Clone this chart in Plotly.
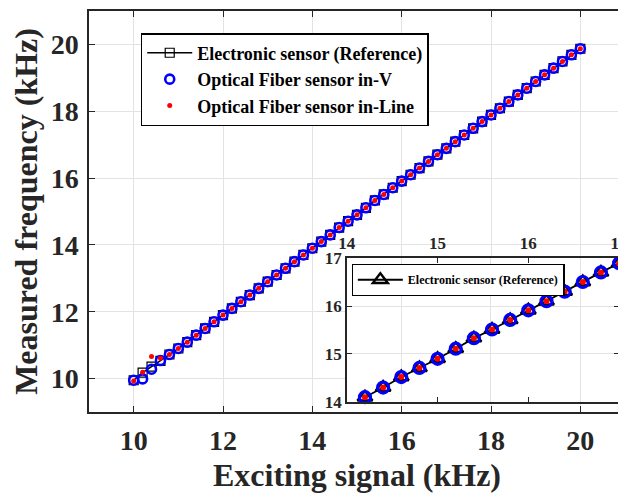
import plotly.graph_objects as go

# ---- data (kHz) ----
exciting = [10.0, 10.2, 10.4, 10.6, 10.8, 11.0, 11.2, 11.4, 11.6, 11.8,
            12.0, 12.2, 12.4, 12.6, 12.8, 13.0, 13.2, 13.4, 13.6, 13.8,
            14.0, 14.2, 14.4, 14.6, 14.8, 15.0, 15.2, 15.4, 15.6, 15.8,
            16.0, 16.2, 16.4, 16.6, 16.8, 17.0, 17.2, 17.4, 17.6, 17.8,
            18.0, 18.2, 18.4, 18.6, 18.8, 19.0, 19.2, 19.4, 19.6, 19.8, 20.0]
electronic_ref = [9.95, 10.18, 10.36, 10.53, 10.72, 10.90, 11.09, 11.30, 11.50, 11.70,
                  11.90, 12.10, 12.30, 12.50, 12.70, 12.90, 13.10, 13.30, 13.50, 13.70,
                  13.90, 14.10, 14.30, 14.52, 14.71, 14.90, 15.11, 15.33, 15.51, 15.71,
                  15.91, 16.10, 16.30, 16.50, 16.70, 16.89, 17.09, 17.29, 17.49, 17.69,
                  17.89, 18.09, 18.29, 18.49, 18.69, 18.89, 19.09, 19.29, 19.49, 19.69, 19.87]
optical_inV = [9.95, 9.99, 10.28, 10.54, 10.72, 10.90, 11.09, 11.30, 11.50, 11.70,
               11.90, 12.10, 12.30, 12.50, 12.70, 12.90, 13.10, 13.30, 13.50, 13.70,
               13.90, 14.10, 14.30, 14.52, 14.71, 14.90, 15.11, 15.33, 15.51, 15.71,
               15.91, 16.10, 16.30, 16.50, 16.70, 16.89, 17.09, 17.29, 17.49, 17.69,
               17.89, 18.09, 18.29, 18.49, 18.69, 18.89, 19.09, 19.29, 19.49, 19.69, 19.87]
optical_inLine = [9.93, 10.19, 10.66, 10.61, 10.72, 10.90, 11.09, 11.30, 11.50, 11.70,
                  11.90, 12.10, 12.30, 12.50, 12.70, 12.90, 13.10, 13.30, 13.50, 13.70,
                  13.90, 14.10, 14.30, 14.52, 14.71, 14.90, 15.11, 15.33, 15.51, 15.71,
                  15.91, 16.10, 16.30, 16.50, 16.70, 16.89, 17.09, 17.29, 17.49, 17.69,
                  17.89, 18.09, 18.29, 18.49, 18.69, 18.89, 19.09, 19.29, 19.49, 19.69, 19.87]

main_ticks = [10, 12, 14, 16, 18, 20]
inset_ticks = [14, 15, 16, 17]
inset_start, inset_end = 21, 36   # zoomed points: 14.2 ... 17.0 kHz

FONT = "Liberation Serif"
DARK = "#262626"
GRID = "#e3e3e3"
BLUE = "#0000ff"
RED = "#ff0000"

main_range = [9, 21]
inset_xdom = [0.481, 0.989]
inset_ydom = [0.025, 0.384]

fig = go.Figure()

# main axes
fig.add_trace(go.Scatter(
    x=exciting, y=electronic_ref, mode="lines+markers",
    name="Electronic sensor (Reference)",
    line=dict(color="black", width=1.5),
    marker=dict(symbol="square-open", size=9, color="black", line=dict(width=1.2))))
fig.add_trace(go.Scatter(
    x=exciting, y=optical_inV, mode="markers",
    name="Optical Fiber sensor in-V",
    marker=dict(symbol="circle-open", size=9, color=BLUE, line=dict(width=2.6))))
fig.add_trace(go.Scatter(
    x=exciting, y=optical_inLine, mode="markers",
    name="Optical Fiber sensor in-Line",
    marker=dict(symbol="circle", size=5, color=RED)))

# inset
xs = exciting[inset_start:inset_end]
fig.add_trace(go.Scatter(
    x=xs, y=electronic_ref[inset_start:inset_end], mode="lines+markers",
    name="Electronic sensor (Reference)", legend="legend2",
    xaxis="x2", yaxis="y2", cliponaxis=False,
    line=dict(color="black", width=1.8),
    marker=dict(symbol="triangle-up-open", size=13, color="black", line=dict(width=2.4))))
fig.add_trace(go.Scatter(
    x=xs, y=optical_inV[inset_start:inset_end], mode="markers", showlegend=False,
    xaxis="x2", yaxis="y2", cliponaxis=False,
    marker=dict(symbol="circle-open", size=11, color=BLUE, line=dict(width=3.2))))
fig.add_trace(go.Scatter(
    x=xs, y=optical_inLine[inset_start:inset_end], mode="markers", showlegend=False,
    xaxis="x2", yaxis="y2", cliponaxis=False,
    marker=dict(symbol="circle", size=6, color=RED)))
# helper axis carrying the main-scale vertical grid inside the inset
fig.add_trace(go.Scatter(x=[], y=[], xaxis="x3", yaxis="y2", showlegend=False,
                         hoverinfo="skip"))

span = main_range[1] - main_range[0]
x3_range = [main_range[0] + span * inset_xdom[0], main_range[0] + span * inset_xdom[1]]

axis_common = dict(showline=True, linecolor=DARK, linewidth=1.5, mirror="ticks",
                   ticks="inside", tickcolor=DARK, zeroline=False, automargin=False,
                   showgrid=True, gridcolor=GRID, gridwidth=1)

# the page body adds an 8 px offset, so the figure is 8 px smaller each way
fig.update_layout(
    template="none",
    width=618, height=485,
    margin=dict(l=81, r=1, t=3, b=81, autoexpand=False),
    paper_bgcolor="white", plot_bgcolor="white",
    font=dict(family=FONT, color=DARK, weight="bold"),
    xaxis=dict(range=main_range, tickvals=main_ticks, ticklen=6,
               tickfont=dict(size=28, family=FONT, color=DARK, weight="bold"),
               ticklabelstandoff=3,
               title=dict(text="Exciting signal (kHz)", standoff=12,
                          font=dict(size=32, family=FONT, color=DARK, weight="bold")),
               **axis_common),
    yaxis=dict(range=main_range, tickvals=main_ticks, ticklen=6,
               tickfont=dict(size=28, family=FONT, color=DARK, weight="bold"),
               ticklabelstandoff=3,
               title=dict(text="Measured frequency (kHz)", standoff=3,
                          font=dict(size=32, family=FONT, color=DARK, weight="bold")),
               **axis_common),
    xaxis2=dict(domain=inset_xdom, anchor="y2", range=[14, 17], tickvals=inset_ticks,
                side="top", ticklen=5, ticklabeloverflow="allow",
                tickfont=dict(size=17, family=FONT, color=DARK, weight="bold"),
                **{**axis_common, "showgrid": False}),
    yaxis2=dict(domain=inset_ydom, anchor="x2", range=[14, 17], tickvals=inset_ticks,
                ticklen=5,
                tickfont=dict(size=17, family=FONT, color=DARK, weight="bold"),
                **axis_common),
    xaxis3=dict(overlaying="x2", anchor="y2", range=x3_range, tickvals=main_ticks,
                showgrid=True, gridcolor=GRID, showticklabels=False, ticks="",
                showline=False, zeroline=False, automargin=False),
    legend=dict(x=0.0965, y=0.945, xanchor="left", yanchor="top",
                bgcolor="white", bordercolor="black", borderwidth=1.5,
                font=dict(size=18, family=FONT, color="black", weight="bold"),
                itemwidth=45, tracegroupgap=0),
    legend2=dict(x=0.490, y=0.369, xanchor="left", yanchor="top",
                 bgcolor="white", bordercolor="black", borderwidth=1.2,
                 font=dict(size=12, family=FONT, color="black", weight="bold"),
                 itemwidth=45),
    showlegend=True,
)

fig.write_html("out.html")
